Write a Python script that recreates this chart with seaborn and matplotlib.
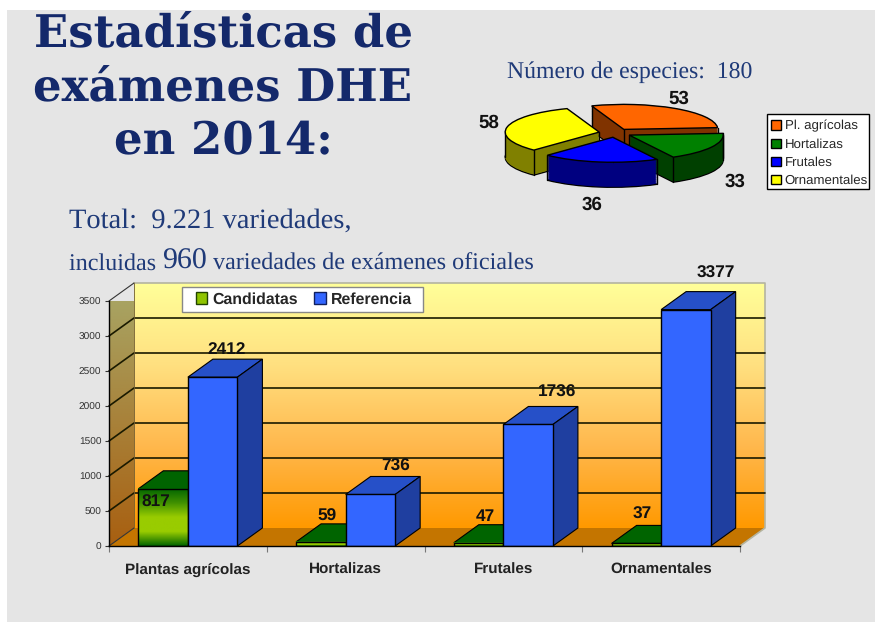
import numpy as np
import pandas as pd
import matplotlib
matplotlib.use('Agg')
import matplotlib.pyplot as plt
from matplotlib.colors import LinearSegmentedColormap
from matplotlib.patches import Patch, Polygon, Rectangle, Wedge
from matplotlib.text import Annotation
import seaborn as sns

# datos de especies (tarta)
especies = ['Pl. agrícolas', 'Hortalizas', 'Frutales', 'Ornamentales']
num_especies = [53, 33, 36, 58]
# datos de variedades (barras)
cultivos = ['Plantas agrícolas', 'Hortalizas', 'Frutales', 'Ornamentales']
candidatas = [817, 59, 47, 37]
referencia = [2412, 736, 1736, 3377]
y_ticks = [0, 500, 1000, 1500, 2000, 2500, 3000, 3500]

# colores
azul_titulo = '#14296b'
azul_texto = '#1f3a78'
cara_tarta = ['#ff6600', '#008000', '#0000ff', '#ffff00']
lado_tarta = ['#803300', '#004000', '#000080', '#808000']
orden_tarta = [1, 3, 4, 2]
# desplazamiento de las etiquetas en pixeles, respecto al centro de la barra
off_cand = [(-7, -14), (6, 25), (7, 26), (6, 29)]
off_ref = [(14, 28), (25, 28), (29, 32), (30, 36)]
off_tarta = [(679, 99), (735, 182), (592, 205), (489, 123)]

W, H = 875, 623


def rect(x0, y0, x1, y1):
    # caja en pixeles de la imagen -> coordenadas de figura
    return [x0 / W, 1 - y1 / H, (x1 - x0) / W, (y1 - y0) / H]


sns.set_theme(style='white')
plt.rcParams['font.family'] = ['Liberation Sans', 'DejaVu Sans']
plt.rcParams['text.hinting'] = 'no_hinting'
plt.rcParams['text.kerning_factor'] = 6

fig = plt.figure(figsize=(W / 100, H / 100), dpi=100, facecolor='white')
fig.patches.append(Rectangle((7 / W, 1 / H), 1, 1 - 11 / H, transform=fig.transFigure,
                             facecolor='#e5e5e5', edgecolor='none', zorder=-10))

# titulos
for txt, yy in zip(['Estadísticas de', 'exámenes DHE', 'en 2014:'], [35, 89, 142]):
    fig.text(223 / W, 1 - yy / H, txt, family='DejaVu Serif', weight='bold', fontsize=32.4,
             color=azul_titulo, ha='center', va='center')
fig.text(507 / W, 1 - 72 / H, 'Número de especies:  180', family='Liberation Serif', fontsize=17.1,
         color=azul_texto, ha='left', va='center')
fig.text(69 / W, 1 - 221 / H, 'Total:  9.221 variedades,', family='Liberation Serif', fontsize=20.5,
         color=azul_texto, ha='left', va='center')
t1 = fig.text(69 / W, 1 - 270 / H, 'incluidas ', family='Liberation Serif', fontsize=17.4,
              color=azul_texto, ha='left', va='baseline')
t2 = fig.add_artist(Annotation('960', xy=(1, 0), xycoords=t1, va='bottom', ha='left',
                               family='Liberation Serif', fontsize=21.5, color=azul_texto))
fig.add_artist(Annotation(' variedades de exámenes oficiales', xy=(1, 0), xycoords=t2,
                          va='bottom', ha='left', family='Liberation Serif', fontsize=17.4,
                          color=azul_texto))

# tarta: eje con x en radios (94 px) e y en radios (25 px)
ax_p = fig.add_axes(rect(615 - 1.3 * 94, 133 - 1.5 * 25, 615 + 1.3 * 94, 133 + 2.5 * 25))
wedges, _ = ax_p.pie(num_especies, colors=cara_tarta, startangle=110, counterclock=False,
                     explode=[0.172] * 4, wedgeprops={'edgecolor': 'black', 'linewidth': 1})
ax_p.set_aspect('auto')
ax_p.set_xlim(-1.3, 1.3)
ax_p.set_ylim(-2.5, 1.5)
ax_p.patch.set_alpha(0)
alto = 1.0
for w, lado, z in zip(wedges, lado_tarta, orden_tarta):
    w.set_zorder(z + 0.5)
    cx, cy = w.center
    for off in np.linspace(alto, 0, 40):
        ec = 'black' if off == alto else 'none'
        ax_p.add_patch(Wedge((cx, cy - off), w.r, w.theta1, w.theta2, facecolor=lado,
                             edgecolor=ec, linewidth=1, zorder=z))
    angs = [w.theta1, w.theta2]
    for a in (-180, 0, 180, 360):
        if w.theta1 < a < w.theta2:
            angs.append(a)
    pts = [(cx + w.r * np.cos(np.radians(a)), cy + w.r * np.sin(np.radians(a))) for a in angs]
    pts.append((cx, cy))
    for x, y in pts:
        ax_p.plot([x, x], [y, y - alto], color='black', lw=1, zorder=z + 0.2)

for v, (xx, yy) in zip(num_especies, off_tarta):
    fig.text(xx / W, 1 - yy / H, str(v), weight='bold', fontsize=13.5, color='#111111',
             ha='center', va='center')
ax_p.add_patch(Rectangle((767 / W, 1 - 189 / H), 102 / W, 75 / H, transform=fig.transFigure, facecolor='white',
                         edgecolor='black', lw=1, zorder=19, clip_on=False))
fig.legend(wedges, especies, loc='center left', bbox_to_anchor=(771 / W, 1 - 153.5 / H),
           frameon=False, fontsize=9.5, handlelength=0.72, handleheight=0.72, handletextpad=0.32,
           labelspacing=0.46, borderpad=0, borderaxespad=0)

# barras: el plano frontal del grafico es el eje
ax = fig.add_axes(rect(109, 301, 740, 546))
datos = pd.DataFrame({'cultivo': cultivos * 2,
                      'tipo': ['Candidatas'] * 4 + ['Referencia'] * 4,
                      'valor': candidatas + referencia})
sns.barplot(datos, x='cultivo', y='valor', hue='tipo', palette=['#99cc00', '#3366ff'], saturation=1,
            width=0.628, gap=0, legend=False, edgecolor='black', linewidth=1, ax=ax, zorder=3)

dx = 25 / (631 / 4)
dy = 18 / (245 / 3500)
x0, x1 = -0.5, 3.5
y1 = y_ticks[-1]

grad_fondo = LinearSegmentedColormap.from_list('fondo', ['#ffff99', '#ffe080', '#ffb84d', '#ff9900'])
grad_pared = LinearSegmentedColormap.from_list('pared', ['#a8a868', '#a85f10'])
grad_cand = LinearSegmentedColormap.from_list('cand', ['#006400', '#3f9000', '#99cc00', '#99cc00', '#006400'])
grad = np.linspace(0, 1, 256).reshape(-1, 1)

# pared del fondo, pared izquierda y suelo
ax.imshow(grad, cmap=grad_fondo, aspect='auto', extent=(x0 + dx, x1 + dx, dy, y1 + dy),
          zorder=0, clip_on=False)
im = ax.imshow(grad, cmap=grad_pared, aspect='auto', extent=(x0, x0 + dx, 0, y1 + dy), zorder=0.1)
pared = Polygon([(x0, 0), (x0 + dx, dy), (x0 + dx, y1 + dy), (x0, y1)], transform=ax.transData,
                facecolor='none', edgecolor='none', clip_on=False)
ax.add_patch(pared)
im.set_clip_path(pared)
ax.add_patch(Polygon([(x0, 0), (x0 + dx, dy), (x1 + dx, dy), (x1, 0)], facecolor='#c47500',
                     edgecolor='none', zorder=0.2, clip_on=False))
ax.plot([x0 + dx, x1 + dx, x1 + dx, x1], [y1 + dy, y1 + dy, dy, 0], color='#b4b4a0', lw=1.2,
        zorder=0.3, clip_on=False)
ax.plot([x0, x0 + dx], [y1, y1 + dy], color='#333333', lw=0.8, zorder=0.3, clip_on=False)
for v in y_ticks[1:-1]:
    ax.plot([x0, x0 + dx, x1 + dx], [v, v + dy, v + dy], color='#1a1a00', lw=1.2, zorder=0.3, clip_on=False)
ax.plot([x0, x0 + dx], [0, dy], color='#333333', lw=0.8, zorder=0.3, clip_on=False)
ax.plot([x0 + dx, x0 + dx], [dy, y1 + dy], color='#6e5a30', lw=0.6, zorder=0.3, clip_on=False)

# caras de arriba y laterales de cada barra, a partir de las barras de seaborn
estilos = [('#006400', '#004800', 1.0), ('#2650c8', '#1f3fa0', 2.0)]
for cont, (c_top, c_lado, z) in zip(ax.containers, estilos):
    for b in cont:
        x, w, h = b.get_x(), b.get_width(), b.get_height()
        b.set_zorder(z + 0.5)
        ax.add_patch(Polygon([(x, h), (x + dx, h + dy), (x + w + dx, h + dy), (x + w, h)], facecolor=c_top,
                             edgecolor='black', lw=0.8, zorder=z + 0.2, clip_on=False))
        ax.add_patch(Polygon([(x + w, 0), (x + w + dx, dy), (x + w + dx, h + dy), (x + w, h)], facecolor=c_lado,
                             edgecolor='black', lw=0.8, zorder=z + 0.2, clip_on=False))
for b in ax.containers[0]:
    ax.imshow(grad, cmap=grad_cand, aspect='auto', zorder=1.6,
              extent=(b.get_x(), b.get_x() + b.get_width(), 0, b.get_height()))
    b.set_facecolor('none')
    b.set_zorder(1.7)

# etiquetas de valores
for cont, offs in zip(ax.containers, [off_cand, off_ref]):
    for b, (ox, oy) in zip(cont, offs):
        ax.annotate(f'{int(b.get_height())}', (b.get_x() + b.get_width() / 2, b.get_height()),
                    xytext=(ox * 0.72, oy * 0.72), textcoords='offset points', ha='center', va='center',
                    weight='bold', fontsize=12.4, color='#111111', zorder=10, annotation_clip=False)

ax.set_xlim(x0, x1)
ax.set_ylim(0, y1)
ax.patch.set_alpha(0)
ax.set_xlabel('')
ax.set_ylabel('')
ax.set_yticks(y_ticks)
ax.set_xticks(range(4))
ax.set_xticklabels(cultivos, weight='bold', fontsize=11, color='#222222', va='baseline')
ax.set_xticks(np.arange(x0, x1 + 0.5), minor=True)
ax.tick_params(axis='x', which='major', length=0, pad=20)
ax.tick_params(axis='x', which='minor', length=4, width=0.8, color='#777777', bottom=True)
ax.tick_params(axis='y', length=3, width=0.8, color='#333333', labelsize=7.3, labelcolor='#333333', pad=2.5, left=True)
sns.despine(ax=ax, top=True, right=True)
for s in ['left', 'bottom']:
    ax.spines[s].set_color('black')
    ax.spines[s].set_linewidth(1)
    ax.spines[s].set_zorder(5)

# caja de la leyenda aparte: el margen lateral es mayor que el vertical
ax.add_patch(Rectangle((182 / W, 1 - 312 / H), 241 / W, 25 / H, transform=fig.transFigure, facecolor='white',
                       edgecolor='#888888', lw=1, zorder=19, clip_on=False))
ax.legend(handles=[Patch(facecolor='#8fc400', edgecolor='#224400', label='Candidatas'),
                   Patch(facecolor='#3366ff', edgecolor='#102060', label='Referencia')],
          ncol=2, loc='center left', bbox_to_anchor=((196 - 109) / 631, (546 - 299.5) / 245),
          frameon=False, prop={'weight': 'bold', 'size': 11.4}, handlelength=0.72, handleheight=0.72,
          handletextpad=0.3, columnspacing=1.05, borderpad=0, borderaxespad=0).set_zorder(20)

fig.savefig('out.png', dpi=100)
